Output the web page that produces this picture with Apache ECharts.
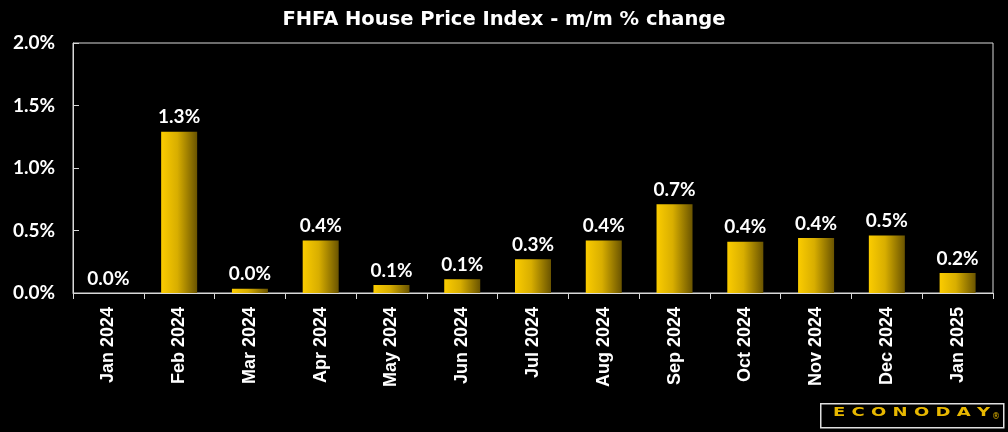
<!DOCTYPE html>
<html><head><meta charset="utf-8">
<script src="https://cdn.jsdelivr.net/npm/echarts@6/dist/echarts.min.js"></script>
<style>html,body{margin:0;padding:0;background:#000}#c{width:1008px;height:432px}</style>
</head><body><div id="c"></div>
<script>
const categories = ["Jan 2024","Feb 2024","Mar 2024","Apr 2024","May 2024","Jun 2024","Jul 2024","Aug 2024","Sep 2024","Oct 2024","Nov 2024","Dec 2024","Jan 2025"];
const values = [0.0, 1.29, 0.035, 0.42, 0.064, 0.11, 0.27, 0.42, 0.71, 0.41, 0.44, 0.46, 0.16];
const yTicks = [0, 0.5, 1.0, 1.5, 2.0];

const chart = echarts.init(document.getElementById('c'));
chart.setOption({
  backgroundColor: '#000',
  animation: false,
  title: {
    text: 'FHFA House Price Index - m/m % change',
    left: 'center', top: 5,
    textStyle: {color: '#fff', fontSize: 19.5, fontWeight: 'bold', fontFamily: 'DejaVu Sans'}
  },
  grid: {left: 73, right: 15, top: 43, bottom: 139, show: true, borderColor: '#d9d9d9', borderWidth: 1},
  xAxis: {
    type: 'category', data: categories,
    axisLine: {lineStyle: {color: '#d9d9d9'}},
    axisTick: {show: true, length: 6, lineStyle: {color: '#d9d9d9'}},
    axisLabel: {color: '#fff', rotate: 90, fontSize: 18, fontWeight: 'bold', fontFamily: 'Liberation Sans', margin: 14, interval: 0}
  },
  yAxis: {
    type: 'value', min: 0, max: 2.0, interval: 0.5,
    axisLine: {show: true, lineStyle: {color: '#d9d9d9'}},
    axisTick: {show: true, inside: true, length: 6, lineStyle: {color: '#d9d9d9'}},
    splitLine: {show: false},
    axisLabel: {color: '#fff', fontSize: 19, fontWeight: 'bold', fontFamily: 'Lato', margin: 18,
      formatter: v => v.toFixed(1) + '%'}
  },
  series: [{
    type: 'bar', data: values, barWidth: 36,
    itemStyle: {color: new echarts.graphic.LinearGradient(0, 0, 1, 0, [
      {offset: 0, color: '#fbcc00'}, {offset: 0.45, color: '#d8ae00'}, {offset: 1, color: '#6a5400'}])},
    label: {show: true, position: 'top', distance: 5, color: '#fff', fontSize: 19, fontWeight: 'bold', fontFamily: 'Lato',
      formatter: p => p.value.toFixed(1) + '%'}
  }],
  graphic: [
    {type: 'rect', left: 820, top: 403, shape: {width: 183, height: 24},
      style: {fill: '#000', stroke: '#e0e0e0', lineWidth: 1.5}},
    {type: 'text', x: 833, y: 407, scaleX: 1.5, scaleY: 1,
      style: {text: 'E C O N O D A Y', fill: '#e8b800', fontSize: 12, fontWeight: 'bold', fontFamily: 'DejaVu Sans'}},
    {type: 'text', x: 992, y: 413, style: {text: '®', fill: '#e8b800', fontSize: 8, fontFamily: 'DejaVu Sans'}}
  ]
});
</script></body></html>
